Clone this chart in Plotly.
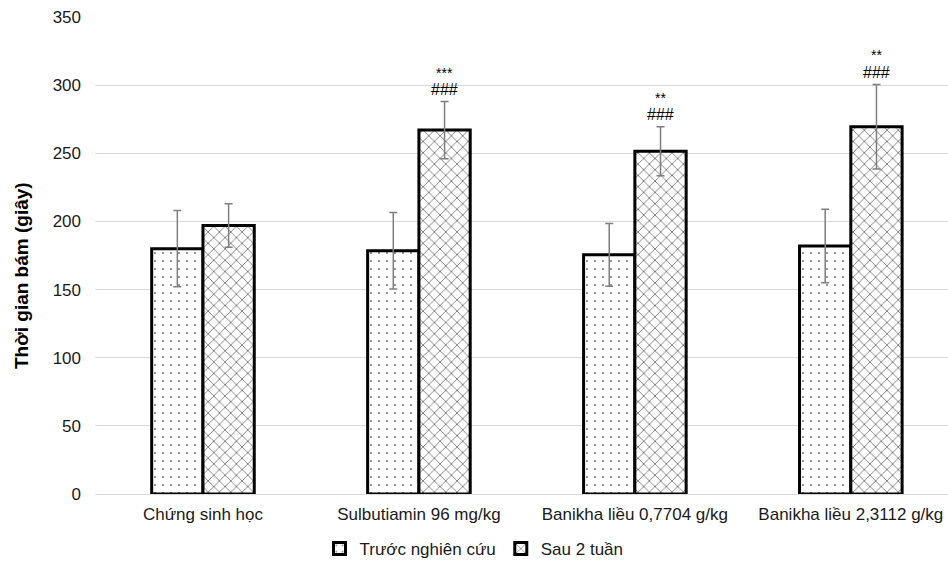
import plotly.graph_objects as go

categories = ["Chứng sinh học", "Sulbutiamin 96 mg/kg", "Banikha liều 0,7704 g/kg", "Banikha liều 2,3112 g/kg"]
before_vals = [180, 178.5, 175.5, 182]
before_err = [28, 28, 23, 27]
after_vals = [197, 267, 251.5, 269.5]
after_err = [16, 21, 18, 31]
stars = ["", "***", "**", "**"]
hashes = ["", "###", "###", "###"]
series_names = ["Trước nghiên cứu", "Sau 2 tuần"]
y_ticks = [0, 50, 100, 150, 200, 250, 300, 350]

FONT = "Liberation Sans, Arial, sans-serif"
TXT = "#1a1a1a"
L, T, B, W, H = 95, 17, 67, 948, 561
PW = W - L
PH = H - T - B

fig = go.Figure()
fig.add_trace(go.Bar(
    x=categories, y=before_vals, name=series_names[0],
    marker=dict(color="white", line=dict(color="black", width=3),
                pattern=dict(shape=".", fgcolor="black", bgcolor="white", size=8, solidity=0.06)),
    error_y=dict(type="data", array=before_err, color="#7f7f7f", thickness=1.5, width=4),
))
fig.add_trace(go.Bar(
    x=categories, y=after_vals, name=series_names[1],
    marker=dict(color="white", line=dict(color="black", width=3),
                pattern=dict(shape="x", fgcolor="black", bgcolor="white", size=8, solidity=0.22)),
    error_y=dict(type="data", array=after_err, color="#7f7f7f", thickness=1.5, width=4),
))

for i, cat in enumerate(categories):
    top = after_vals[i] + after_err[i]
    if hashes[i]:
        fig.add_annotation(x=i, y=top, xref="x", yref="y", text=hashes[i], showarrow=False,
                           xshift=25.5, yshift=12, font=dict(family=FONT, size=16, color="black"))
    if stars[i]:
        fig.add_annotation(x=i, y=top, xref="x", yref="y", text=stars[i], showarrow=False,
                           xshift=25.5, yshift=29, font=dict(family=FONT, size=14, color="black"))

fig.add_annotation(text="<b>Thời gian bám (giây)</b>", xref="paper", yref="paper",
                   x=(21 - L) / PW, y=(494 - 276) / PH, xanchor="center", yanchor="middle",
                   textangle=-90, showarrow=False,
                   font=dict(family=FONT, size=19, color="black"))

fig.update_layout(
    width=W, height=H,
    margin=dict(l=L, r=0, t=T, b=B, autoexpand=False),
    plot_bgcolor="white", paper_bgcolor="white",
    barmode="group", bargap=0.525, bargroupgap=0,
    font=dict(family=FONT, size=17, color=TXT),
    showlegend=True,
    legend=dict(orientation="h", xref="container", yref="container",
                x=474 / W, xanchor="center", y=(H - 549) / H, yanchor="middle",
                font=dict(family=FONT, size=17, color=TXT), itemwidth=30,
                traceorder="normal"),
    xaxis=dict(range=[-0.5, 3.45], showgrid=False, showline=False, ticks="", automargin=False,
               ticklabelstandoff=8,
               tickfont=dict(family=FONT, size=17, color=TXT)),
    yaxis=dict(range=[0, 350], tickvals=y_ticks, showgrid=True, gridcolor="#d9d9d9", gridwidth=1,
               zeroline=True, zerolinecolor="#d9d9d9", zerolinewidth=1, showline=False,
               ticks="", ticklabelstandoff=13, automargin=False,
               tickfont=dict(family=FONT, size=17, color=TXT)),
)

fig.write_html("out.html", config={"displayModeBar": False},
               post_script="document.body.style.margin='0';document.body.style.padding='0';")
